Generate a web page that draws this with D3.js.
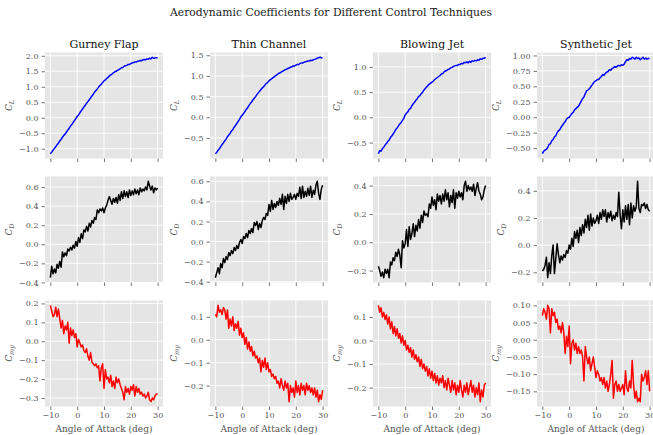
<!DOCTYPE html>
<html>
<head>
<meta charset="utf-8">
<script src="https://cdnjs.cloudflare.com/ajax/libs/d3/7.8.5/d3.min.js"></script>
<style>
body { margin: 0; background: #fff; }
text { font-family: "DejaVu Serif", serif; }
</style>
</head>
<body>
<div id="body"></div>
<script>
// angle of attack, deg
var angles = [-10,-9.5,-9,-8.5,-8,-7.5,-7,-6.5,-6,-5.5,-5,-4.5,-4,-3.5,-3,-2.5,-2,-1.5,-1,-0.5,
  0,0.5,1,1.5,2,2.5,3,3.5,4,4.5,5,5.5,6,6.5,7,7.5,8,8.5,9,9.5,
  10,10.5,11,11.5,12,12.5,13,13.5,14,14.5,15,15.5,16,16.5,17,17.5,18,18.5,19,19.5,
  20,20.5,21,21.5,22,22.5,23,23.5,24,24.5,25,25.5,26,26.5,27,27.5,28,28.5,29,29.5,30];

var techniques = ["Gurney Flap", "Thin Channel", "Blowing Jet", "Synthetic Jet"];
var xTicks = [-10, 0, 10, 20, 30];

// lift coefficient
var clGurney = [-1.16,-1.11,-1.05,-0.99,-0.94,-0.87,-0.82,-0.75,-0.70,-0.63,-0.57,-0.53,-0.46,-0.40,-0.34,-0.27,-0.22,-0.15,-0.09,-0.03,
  0.04,0.09,0.16,0.22,0.28,0.35,0.40,0.47,0.52,0.58,0.64,0.70,0.76,0.83,0.88,0.93,0.99,1.04,1.08,1.14,
  1.19,1.22,1.27,1.30,1.35,1.38,1.41,1.45,1.48,1.50,1.53,1.55,1.58,1.61,1.62,1.66,1.68,1.69,1.72,1.72,
  1.75,1.77,1.78,1.80,1.80,1.82,1.83,1.85,1.84,1.87,1.88,1.87,1.90,1.89,1.92,1.90,1.95,1.92,1.93,1.94,1.93];
var clThin = [-0.88,-0.85,-0.80,-0.76,-0.71,-0.66,-0.62,-0.57,-0.53,-0.47,-0.43,-0.39,-0.33,-0.30,-0.24,-0.20,-0.15,-0.10,-0.05,0.01,
  0.05,0.09,0.14,0.19,0.23,0.28,0.33,0.37,0.42,0.46,0.50,0.55,0.59,0.63,0.67,0.71,0.74,0.78,0.82,0.84,
  0.88,0.91,0.93,0.96,0.98,1.01,1.03,1.06,1.07,1.09,1.11,1.13,1.15,1.16,1.18,1.19,1.21,1.22,1.24,1.24,
  1.26,1.28,1.27,1.30,1.31,1.31,1.33,1.34,1.35,1.36,1.36,1.38,1.37,1.39,1.40,1.41,1.43,1.44,1.45,1.44,1.43];
var clBlowing = [-0.72,-0.66,-0.67,-0.62,-0.59,-0.55,-0.52,-0.48,-0.45,-0.40,-0.37,-0.33,-0.29,-0.24,-0.21,-0.17,-0.13,-0.10,-0.06,-0.02,
  0.05,0.08,0.11,0.16,0.18,0.23,0.27,0.30,0.34,0.37,0.41,0.43,0.47,0.50,0.54,0.57,0.60,0.63,0.66,0.68,
  0.70,0.72,0.75,0.77,0.79,0.81,0.83,0.86,0.87,0.90,0.92,0.93,0.95,0.96,0.98,0.99,1.01,1.02,1.03,1.03,
  1.05,1.05,1.07,1.06,1.09,1.08,1.10,1.08,1.11,1.09,1.12,1.11,1.13,1.12,1.14,1.13,1.16,1.15,1.17,1.17,1.19];
var clSynthetic = [-0.59,-0.55,-0.53,-0.52,-0.49,-0.44,-0.43,-0.38,-0.36,-0.32,-0.30,-0.25,-0.22,-0.20,-0.16,-0.13,-0.10,-0.07,-0.03,-0.01,
  0.00,0.03,0.06,0.08,0.12,0.14,0.16,0.18,0.22,0.26,0.30,0.33,0.38,0.43,0.44,0.46,0.49,0.52,0.55,0.58,
  0.59,0.61,0.61,0.64,0.66,0.69,0.68,0.71,0.73,0.74,0.77,0.76,0.79,0.80,0.82,0.81,0.83,0.84,0.83,0.85,
  0.84,0.86,0.90,0.93,0.92,0.95,0.94,0.97,0.96,0.94,0.97,0.95,0.96,0.93,0.95,0.97,0.94,0.96,0.94,0.95,0.95];

// drag coefficient
var cdGurney = [-0.35,-0.23,-0.31,-0.26,-0.30,-0.21,-0.25,-0.18,-0.24,-0.08,-0.13,-0.09,-0.12,-0.05,-0.07,-0.03,-0.06,-0.01,-0.04,0.03,
  -0.02,0.07,0.02,0.11,0.06,0.15,0.13,0.19,0.14,0.22,0.18,0.25,0.22,0.28,0.26,0.36,0.33,0.37,0.35,0.38,
  0.33,0.38,0.41,0.46,0.50,0.46,0.42,0.48,0.44,0.49,0.43,0.52,0.46,0.55,0.48,0.56,0.50,0.55,0.49,0.57,
  0.51,0.56,0.52,0.58,0.53,0.57,0.52,0.59,0.55,0.58,0.56,0.60,0.57,0.66,0.61,0.57,0.61,0.54,0.59,0.57,0.59];
var cdThin = [-0.36,-0.31,-0.26,-0.32,-0.22,-0.26,-0.17,-0.21,-0.15,-0.18,-0.11,-0.14,-0.09,-0.12,-0.06,-0.09,-0.04,-0.07,-0.01,0.02,
  -0.02,0.05,0.03,0.08,0.04,0.11,0.08,0.13,0.09,0.19,0.16,0.20,0.12,0.18,0.14,0.21,0.24,0.22,0.28,0.26,
  0.37,0.30,0.41,0.32,0.38,0.34,0.40,0.36,0.43,0.37,0.47,0.32,0.45,0.38,0.47,0.40,0.48,0.42,0.44,0.47,
  0.42,0.48,0.45,0.54,0.43,0.55,0.44,0.50,0.45,0.53,0.46,0.55,0.44,0.51,0.47,0.56,0.60,0.48,0.42,0.52,0.56];
var cdBlowing = [-0.17,-0.20,-0.24,-0.21,-0.25,-0.19,-0.22,-0.19,-0.25,-0.14,-0.16,-0.11,-0.13,-0.07,-0.10,-0.05,-0.09,-0.18,0.01,-0.04,
  -0.01,0.09,-0.03,0.11,0.02,0.06,0.13,0.04,0.12,0.08,0.16,0.10,0.19,0.14,0.22,0.19,0.20,0.18,0.27,0.24,
  0.32,0.26,0.30,0.23,0.34,0.29,0.33,0.27,0.34,0.29,0.37,0.30,0.35,0.25,0.33,0.28,0.37,0.24,0.35,0.31,
  0.36,0.32,0.35,0.30,0.40,0.43,0.36,0.40,0.37,0.39,0.36,0.41,0.33,0.38,0.42,0.36,0.34,0.30,0.32,0.37,0.40];
var cdSynthetic = [-0.19,-0.18,-0.15,-0.09,-0.24,-0.13,-0.21,-0.08,0.00,-0.21,-0.10,0.01,-0.07,-0.13,-0.08,-0.11,-0.07,-0.09,-0.04,-0.06,
  0.00,-0.03,0.05,-0.01,0.10,0.05,0.11,0.02,0.13,0.07,0.15,0.09,0.19,0.13,0.22,0.11,0.23,0.14,0.20,0.16,
  0.18,0.22,0.16,0.24,0.19,0.26,0.21,0.26,0.17,0.24,0.20,0.25,0.18,0.22,0.19,0.24,0.21,0.39,0.22,0.12,
  0.26,0.17,0.29,0.19,0.30,0.15,0.31,0.20,0.29,0.25,0.28,0.47,0.27,0.24,0.30,0.29,0.31,0.27,0.30,0.26,0.25];

// pitching moment coefficient
var cmGurney = [0.19,0.16,0.13,0.14,0.18,0.13,0.17,0.12,0.07,0.11,0.04,0.08,0.06,0.10,-0.01,0.07,0.03,0.06,0.02,0.04,
  -0.03,0.01,-0.01,-0.03,-0.02,-0.05,-0.06,-0.04,-0.08,-0.10,-0.06,-0.11,-0.12,-0.13,-0.12,-0.14,-0.13,-0.21,-0.14,-0.12,
  -0.25,-0.15,-0.20,-0.19,-0.22,-0.18,-0.24,-0.21,-0.25,-0.19,-0.22,-0.20,-0.23,-0.25,-0.27,-0.31,-0.24,-0.27,-0.25,-0.28,
  -0.24,-0.26,-0.23,-0.29,-0.24,-0.27,-0.25,-0.28,-0.27,-0.29,-0.28,-0.30,-0.29,-0.27,-0.31,-0.32,-0.30,-0.31,-0.29,-0.28,-0.28];
var cmThin = [0.11,0.10,0.15,0.12,0.13,0.11,0.14,0.13,0.09,0.13,0.05,0.09,0.06,0.10,0.04,0.07,0.05,0.08,0.02,0.05,
  0.01,0.03,-0.02,0.01,-0.04,-0.01,-0.05,-0.03,-0.07,-0.05,-0.08,-0.07,-0.10,-0.08,-0.14,-0.09,-0.12,-0.08,-0.13,-0.10,
  -0.14,-0.13,-0.16,-0.15,-0.17,-0.16,-0.19,-0.18,-0.21,-0.17,-0.20,-0.22,-0.18,-0.21,-0.19,-0.27,-0.20,-0.23,-0.21,-0.25,
  -0.18,-0.23,-0.20,-0.24,-0.19,-0.22,-0.20,-0.24,-0.19,-0.22,-0.20,-0.23,-0.21,-0.24,-0.21,-0.25,-0.22,-0.27,-0.24,-0.26,-0.22];
var cmBlowing = [0.15,0.12,0.14,0.10,0.12,0.09,0.11,0.07,0.10,0.05,0.08,0.03,0.06,0.02,0.05,0.01,0.03,-0.01,0.02,-0.02,
  0.00,-0.04,-0.02,-0.05,-0.03,-0.07,-0.04,-0.08,-0.06,-0.09,-0.07,-0.11,-0.08,-0.12,-0.10,-0.13,-0.11,-0.15,-0.12,-0.16,
  -0.13,-0.17,-0.14,-0.18,-0.15,-0.19,-0.16,-0.18,-0.15,-0.20,-0.17,-0.21,-0.16,-0.19,-0.22,-0.17,-0.21,-0.18,-0.23,-0.19,
  -0.22,-0.17,-0.21,-0.24,-0.19,-0.22,-0.18,-0.23,-0.20,-0.17,-0.22,-0.19,-0.24,-0.20,-0.23,-0.18,-0.26,-0.21,-0.24,-0.19,-0.18];
var cmSynthetic = [0.07,0.09,0.08,0.06,0.10,0.09,0.02,0.09,0.07,0.08,0.05,0.06,0.03,0.04,0.02,0.05,0.02,-0.04,0.01,-0.02,
  0.04,-0.07,-0.01,0.00,-0.03,-0.01,-0.04,-0.02,-0.04,-0.03,-0.05,-0.12,-0.02,-0.05,-0.07,-0.05,-0.09,-0.07,-0.05,-0.08,
  -0.11,-0.09,-0.10,-0.12,-0.11,-0.13,-0.11,-0.14,-0.12,-0.15,-0.13,-0.10,-0.06,-0.17,-0.13,-0.12,-0.15,-0.13,-0.15,-0.14,
  -0.13,-0.16,-0.09,-0.14,-0.15,-0.12,-0.14,-0.06,-0.13,-0.17,-0.15,-0.18,-0.17,-0.18,-0.10,-0.12,-0.11,-0.09,-0.13,-0.09,-0.15];

// y tick values per row / column
var clTicks = [[-1,-0.5,0,0.5,1,1.5,2], [-0.5,0,0.5,1,1.5], [-0.5,0,0.5,1], [-0.5,-0.25,0,0.25,0.5,0.75,1]];
var cdTicks = [[-0.4,-0.2,0,0.2,0.4,0.6], [-0.4,-0.2,0,0.2,0.4,0.6], [-0.2,0,0.2,0.4], [-0.2,0,0.2,0.4]];
var cmTicks = [[-0.3,-0.2,-0.1,0,0.1,0.2], [-0.2,-0.1,0,0.1], [-0.2,-0.1,0,0.1], [-0.15,-0.1,-0.05,0,0.05,0.1]];
var clDigits = [1, 1, 1, 2];
var cdDigits = [1, 1, 1, 1];
var cmDigits = [1, 1, 1, 2];

var rows = [
  {series: [clGurney, clThin, clBlowing, clSynthetic], ticks: clTicks, digits: clDigits, color: "#0000ff", sub: "L"},
  {series: [cdGurney, cdThin, cdBlowing, cdSynthetic], ticks: cdTicks, digits: cdDigits, color: "#000000", sub: "D"},
  {series: [cmGurney, cmThin, cmBlowing, cmSynthetic], ticks: cmTicks, digits: cmDigits, color: "#ff0000", sub: "my"}
];

var W = 653, H = 435;
var colLeft = [45, 210, 373, 537];
var rowTop = [52.5, 176.5, 300.5];
var pw = 118, ph = 106;

var svg = d3.select("#body").append("svg").attr("width", W).attr("height", H);

svg.append("text")
  .attr("x", 331).attr("y", 16)
  .attr("text-anchor", "middle")
  .attr("font-size", "10.8px")
  .attr("fill", "#222")
  .text("Aerodynamic Coefficients for Different Control Techniques");

rows.forEach(function(row, r){
  techniques.forEach(function(name, c){
    var vals = row.series[c];
    var g = svg.append("g").attr("transform", "translate(" + colLeft[c] + "," + rowTop[r] + ")");

    var x = d3.scaleLinear().domain([-12, 32]).range([0, pw]);
    var lo = d3.min(vals), hi = d3.max(vals), pad = (hi - lo) * 0.05;
    var y = d3.scaleLinear().domain([lo - pad, hi + pad]).range([ph, 0]);

    g.append("rect").attr("width", pw).attr("height", ph).attr("fill", "#e5e5e5");

    g.selectAll(".gx").data(xTicks).enter().append("line")
      .attr("x1", function(d){ return x(d); }).attr("x2", function(d){ return x(d); })
      .attr("y1", 0).attr("y2", ph)
      .attr("stroke", "#fff").attr("stroke-width", 0.9);
    g.selectAll(".gy").data(row.ticks[c]).enter().append("line")
      .attr("x1", 0).attr("x2", pw)
      .attr("y1", function(d){ return y(d); }).attr("y2", function(d){ return y(d); })
      .attr("stroke", "#fff").attr("stroke-width", 0.9);

    var line = d3.line()
      .x(function(d, i){ return x(angles[i]); })
      .y(function(d){ return y(d); });
    g.append("path").datum(vals)
      .attr("d", line)
      .attr("fill", "none")
      .attr("stroke", row.color)
      .attr("stroke-width", 1.5)
      .attr("stroke-linejoin", "round");

    var ya = g.append("g").call(d3.axisLeft(y)
      .tickValues(row.ticks[c])
      .tickSize(3.5).tickPadding(3)
      .tickFormat(d3.format("." + row.digits[c] + "f")));
    var xa = g.append("g").attr("transform", "translate(0," + ph + ")").call(d3.axisBottom(x)
      .tickValues(xTicks)
      .tickSize(3.5).tickPadding(2.5)
      .tickFormat(r == 2 ? d3.format("d") : function(){ return ""; }));
    [ya, xa].forEach(function(a){
      a.select(".domain").remove();
      a.selectAll("line").attr("stroke", "#555").attr("stroke-width", 0.8);
      a.selectAll("text").attr("fill", "#555").attr("font-size", "8px").attr("font-family", "DejaVu Serif, serif");
    });

    var maxW = 0;
    ya.selectAll("text").each(function(){ maxW = Math.max(maxW, this.getComputedTextLength()); });
    var lx = -(maxW + 6.5 + 7);
    var lab = g.append("text")
      .attr("transform", "translate(" + lx + "," + (ph / 2) + ") rotate(-90)")
      .attr("text-anchor", "middle")
      .attr("font-size", "9px")
      .attr("fill", "#555")
      .attr("font-style", "italic");
    lab.append("tspan").text("C");
    lab.append("tspan").attr("font-size", "6.5px").attr("dy", 2).text(row.sub);

    if (r == 0) {
      g.append("text")
        .attr("x", pw / 2).attr("y", -5)
        .attr("text-anchor", "middle")
        .attr("font-size", "11px")
        .attr("fill", "#111")
        .text(name);
    }
    if (r == 2) {
      g.append("text")
        .attr("x", pw / 2).attr("y", ph + 25)
        .attr("text-anchor", "middle")
        .attr("font-size", "9px")
        .attr("fill", "#555")
        .text("Angle of Attack (deg)");
    }
  });
});
</script>
</body>
</html>
